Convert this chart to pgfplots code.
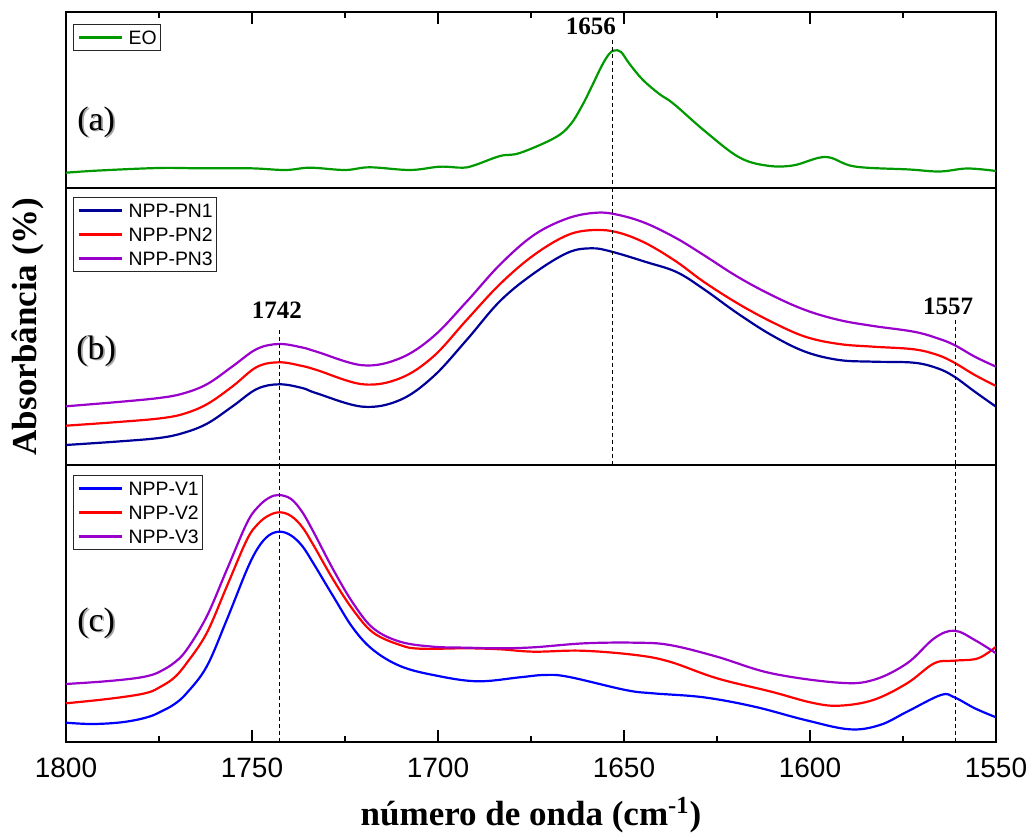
\documentclass[border=0pt]{standalone}
\usepackage{fontspec}
\setmainfont{Liberation Sans}
\newfontfamily\timesfont{Liberation Serif}
\usepackage{pgfplots}
\pgfplotsset{compat=1.18}
\definecolor{cEO}{RGB}{0,153,0}
\definecolor{cNavy}{RGB}{0,0,153}
\definecolor{cRed}{RGB}{255,0,0}
\definecolor{cPurp}{RGB}{153,0,204}
\definecolor{cBlue}{RGB}{0,0,255}
\pgfplotsset{
  panel/.style={
    scale only axis, width=465pt, x dir=reverse, y dir=reverse,
    xmin=1550, xmax=1800, ytick=\empty,
    axis line style={line width=1pt},
    xtick={1550,1600,...,1800}, minor x tick num=1,
    major tick length=6pt, minor tick length=3pt,
    every tick/.style={black, line width=1pt},
    tick align=inside, clip mode=individual,
    every axis plot/.append style={line width=1.1pt, smooth, tension=0.6},
    legend image code/.code={\draw[##1] (0pt,0pt) -- (21.5pt,0pt);},
    legend style={at={(axis description cs:0,1)}, anchor=north west,
      xshift=3.5pt, draw=black!85, line width=0.5pt,
      font=\fontsize{9.7}{11}\selectfont, inner xsep=2pt, inner ysep=3pt,
      row sep=5pt, column sep=3pt, cells={anchor=west},
      nodes={inner sep=0pt, text height=7pt, text depth=0pt}},
  },
}
\tikzset{
  dline/.style={black, line width=0.5pt, dash pattern=on 2pt off 1.5pt},
  plab/.style={font=\timesfont\fontsize{17}{17}\selectfont},
  pshadow/.style={font=\timesfont\fontsize{17}{17}\selectfont, text=black!35, xshift=0.9pt, yshift=-0.9pt},
  pklab/.style={font=\timesfont\bfseries\fontsize{12.5}{12.5}\selectfont},
}
\begin{document}
\begin{tikzpicture}
\path[use as bounding box] (0,0) rectangle (516pt,417pt);

% ---------------- panel (a)
\begin{axis}[panel, at={(33pt,323pt)}, anchor=south west, height=88pt,
  ymin=12, ymax=188, xtick pos=right, xticklabels=\empty,
  legend style={yshift=-6pt}]
\addplot[cEO] coordinates {
(1800,172.7) (1791,170.5) (1775,168) (1764,168.3) (1750.5,168.3) (1741,170)
(1734.4,167.7) (1725,170) (1718.3,167.3) (1707.5,170) (1699.5,166.7) (1693.3,167.7)
(1690,165) (1683.3,156) (1678,153) (1668.7,138) (1664.5,125) (1661.3,106) (1658.6,86)
(1656,66) (1654,54) (1652.6,50.5) (1650.8,52) (1648.5,64) (1644.9,80) (1640.5,94)
(1636.6,104) (1628.3,131) (1619.2,157) (1611.8,165.5) (1604.6,165.5) (1595.8,157)
(1588,166.5) (1573.3,169.5) (1565.1,171.5) (1557.7,168.5) (1550,171)
};
\addlegendentry{EO}
\draw[dline] (axis cs:1653.2,40) -- (axis cs:1653.2,188);
\node[pshadow] at (axis cs:1791.9,122) {(a)};
\node[plab] at (axis cs:1791.9,122) {(a)};
\node[pklab] at (axis cs:1658.9,26) {1656};
\end{axis}

% ---------------- panel (b)
\begin{axis}[panel, at={(33pt,184.5pt)}, anchor=south west, height=138.5pt,
  ymin=188, ymax=465, xtick=\empty,
  legend style={yshift=-4.5pt},
  ylabel={Absorbância (\%)},
  ylabel style={at={(axis description cs:-0.0414,0.5)}, anchor=center,
    font=\timesfont\bfseries\fontsize{17.5}{17.5}\selectfont}]
\addplot[cNavy] coordinates {
(1800,445) (1786,441.5) (1775,438) (1768.5,433) (1762,423.5) (1755.1,406) (1748.7,389)
(1742.7,384.3) (1736.5,388) (1732.6,393.3) (1720.2,406.7) (1710.2,400) (1701.3,376.7)
(1692.3,340) (1683.3,301) (1674.2,273.3) (1665.1,252.7) (1658.7,248.3) (1653.3,251.7)
(1644.1,262) (1635.9,272) (1628.6,289) (1619.5,313.3) (1610.4,335)
(1601.3,351.7) (1592.2,360) (1583,361.7) (1572.1,362.7) (1565.7,368.3)
(1561.2,376.7) (1555.7,391.7) (1550,406.7)
};
\addlegendentry{NPP-PN1}
\addplot[cRed] coordinates {
(1800,425.7) (1786,422) (1775,418.5) (1768.5,414) (1762,404) (1755.1,386) (1748.7,367)
(1742.7,362.3) (1736.5,366) (1732.6,370) (1720.2,384.3) (1710.2,378.3) (1701.3,356.7)
(1692.3,320) (1683.3,284) (1674.2,255) (1665.1,235) (1657.8,230) (1651.4,232.7)
(1644.1,243.3) (1635.9,261.7) (1628.6,281.7) (1619.5,303.3) (1610.4,321.7)
(1601.3,336.7) (1592.2,344) (1583,346.7) (1572.1,349.3) (1565.7,355)
(1561.2,362.7) (1555.7,375) (1550,386)
};
\addlegendentry{NPP-PN2}
\addplot[cPurp] coordinates {
(1800,406.3) (1786,402) (1775,398) (1768.5,393.5) (1762,384) (1755.1,366) (1748.7,349)
(1742.7,344) (1736.5,347.5) (1732.6,351.7) (1720.2,365.3) (1710.2,358.3) (1701.3,336.7)
(1692.3,301.7) (1683.3,264.5) (1674.2,235) (1665.1,218.3) (1657.3,212.7) (1651.4,215)
(1644.1,223.3) (1635.9,238.3) (1628.6,255) (1619.5,276.7) (1610.4,295)
(1601.3,310) (1592.2,320) (1583,326) (1572.1,331.7) (1565.7,338.3)
(1561.2,345) (1555.7,356.7) (1550,366.7)
};
\addlegendentry{NPP-PN3}
\draw[dline] (axis cs:1653.2,188) -- (axis cs:1653.2,465);
\draw[dline] (axis cs:1742.7,330) -- (axis cs:1742.7,465);
\draw[dline] (axis cs:1561,320) -- (axis cs:1561,465);
\node[pshadow] at (axis cs:1791.9,351) {(b)};
\node[plab] at (axis cs:1791.9,351) {(b)};
\node[pklab] at (axis cs:1743.3,310) {1742};
\node[pklab] at (axis cs:1562.9,306) {1557};
\end{axis}

% ---------------- panel (c)
\begin{axis}[panel, at={(33pt,46pt)}, anchor=south west, height=138.5pt,
  ymin=465, ymax=742, xtick pos=left,
  legend style={yshift=-5pt},
  xticklabel style={font=\fontsize{14}{16}\selectfont, yshift=-4.5pt},
  /pgf/number format/.cd, 1000 sep={}, assume math mode=true,
  /pgfplots/.cd,
  xlabel={número de onda (cm\textsuperscript{-1})},
  xlabel style={at={(axis description cs:0.5,0)}, anchor=center, yshift=-36.5pt,
    font=\timesfont\bfseries\fontsize{17.5}{17.5}\selectfont}]
\addplot[cBlue] coordinates {
(1800,722.7) (1793.5,724) (1787,723) (1781.9,720.5) (1777.5,716.5) (1774.7,712) (1771,704.5)
(1767.6,693.3) (1762.2,666.7)
(1756.8,620) (1751.4,570) (1748.4,548) (1745.5,535.5) (1742.5,531.7) (1739.5,535.5)
(1736.5,546) (1733.5,563.3)
(1728.1,596.7) (1722.8,628.3) (1717.4,650) (1710.2,666) (1701.3,675) (1689.6,681.3)
(1678,677.3) (1671.5,675) (1665.1,676.7) (1649.6,690) (1642.3,693.3) (1628.6,697.3)
(1614.9,706.7) (1601.3,720) (1589.4,729.3) (1581.2,725) (1573.9,711.7) (1564.8,695)
(1561.2,697.3) (1555.7,708.3) (1550,717.3)
};
\addlegendentry{NPP-V1}
\addplot[cRed] coordinates {
(1800,703.3) (1790,699.5) (1781.9,695.5) (1777.5,692) (1774.7,687) (1771,678)
(1767.6,663.3) (1762.2,633.3) (1756.8,586.7)
(1751.4,540) (1748.4,524) (1745.5,515.5) (1742.5,512.3) (1739.5,516) (1736.5,527)
(1733.5,545) (1728.1,580)
(1722.8,610) (1717.4,632.7) (1710.2,645) (1704.8,648.7) (1692.3,648.3) (1683.3,649.3)
(1674.2,651.7) (1661.4,650.7) (1646.9,655) (1637.7,661.7) (1625,678.3) (1610.4,691.7)
(1599.5,702.7) (1592.2,705.7) (1583,700) (1573.9,683.3) (1566.6,663.3) (1561.2,660.7)
(1554.8,658.3) (1550,646.7)
};
\addlegendentry{NPP-V2}
\addplot[cPurp] coordinates {
(1800,684) (1790,681.5) (1781.9,678.5) (1777.5,675.5) (1774.7,671.5) (1771,663)
(1767.6,650) (1762.2,616.7) (1756.8,570)
(1751.4,523.3) (1748.4,507) (1745.5,498) (1742.8,495) (1739.5,499) (1736.5,512)
(1733.5,531.7) (1728.1,570)
(1722.8,603.3) (1717.4,628.3) (1710.2,641.7) (1701.3,646.7) (1692.3,647.7)
(1683.3,648.3) (1674.2,647.3) (1660.5,643.3) (1646.9,642.7) (1637.7,645)
(1625,656.7) (1610.4,673.3) (1592.2,682.7) (1583,680) (1573.9,663.3) (1566.6,638.3)
(1561.2,630.7) (1555.7,640) (1550,653.3)
};
\addlegendentry{NPP-V3}
\draw[dline] (axis cs:1742.7,465) -- (axis cs:1742.7,742);
\draw[dline] (axis cs:1561,465) -- (axis cs:1561,742);
\node[pshadow] at (axis cs:1791.9,623) {(c)};
\node[plab] at (axis cs:1791.9,623) {(c)};
\end{axis}
\end{tikzpicture}
\end{document}
